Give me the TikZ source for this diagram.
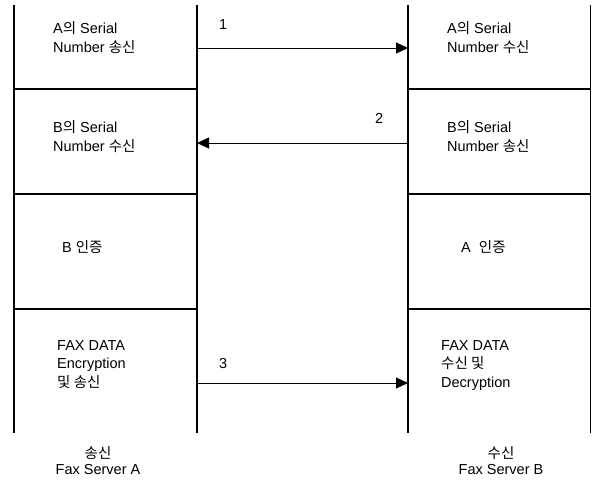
\documentclass[tikz,border=0pt]{standalone}
\usepackage{fontspec}
\setmainfont{Liberation Sans}
\newfontfamily\kr{Noto Sans CJK KR}
\usetikzlibrary{arrows.meta}

\begin{document}
\begin{tikzpicture}[x=1pt,y=-1pt,
    life/.style={line width=1.5pt},
    sep/.style={line width=1.2pt},
    msg/.style={line width=1pt,-{Triangle[length=12pt,width=11pt]}},
    txt/.style={font=\fontsize{14.5}{18.5}\selectfont,align=left,inner sep=0pt,anchor=base west},
    srvtxt/.style={font=\fontsize{14.5}{16}\selectfont,align=center,inner sep=0pt,anchor=base}]
        \useasboundingbox (0,0) rectangle (593,490);
        \draw[life] (14,5) -- (14,433);
        \draw[life] (197,5) -- (197,433);
        \draw[life] (408,5) -- (408,433);
        \draw[life] (590.5,5) -- (590.5,433);
        \foreach \y in {89,194,309} {
          \draw[sep] (14,\y) -- (197,\y);
          \draw[sep] (408,\y) -- (590.5,\y);
        }
        \coordinate (a1) at (197,48);
        \coordinate (b1) at (408,48);
        \coordinate (a2) at (197,143);
        \coordinate (b2) at (408,143);
        \coordinate (a3) at (197,383);
        \coordinate (b3) at (408,383);
        \draw[msg] (a1) -- (b1);
        \draw[msg] (b2) -- (a2);
        \draw[msg] (a3) -- (b3);
        \node[txt] (n1) at (219,29) {1};
        \node[txt] (n2) at (375,123) {2};
        \node[txt] (n3) at (219,368) {3};
        \node[txt] (sendA) at (53,52) {A{\kr 의} Serial\\Number {\kr 송신}};
        \node[txt] (recvB) at (53,151) {B{\kr 의} Serial\\Number {\kr 수신}};
        \node[txt] (authB) at (62,252) {B {\kr 인증}};
        \node[txt] (encA) at (57,387) {FAX DATA\\Encryption\\{\kr 및 송신}};
        \node[txt] (recvA) at (447,52) {A{\kr 의} Serial\\Number {\kr 수신}};
        \node[txt] (sendB) at (447,151) {B{\kr 의} Serial\\Number {\kr 송신}};
        \node[txt] (authA) at (461,252) {A\ \ {\kr 인증}};
        \node[txt] (decB) at (441,387) {FAX DATA\\{\kr 수신 및}\\Decryption};
        \node[srvtxt] (srvA) at (98,474) {{\kr 송신}\\Fax Server A};
        \node[srvtxt] (srvB) at (501,474) {{\kr 수신}\\Fax Server B};
\end{tikzpicture}
\end{document}
